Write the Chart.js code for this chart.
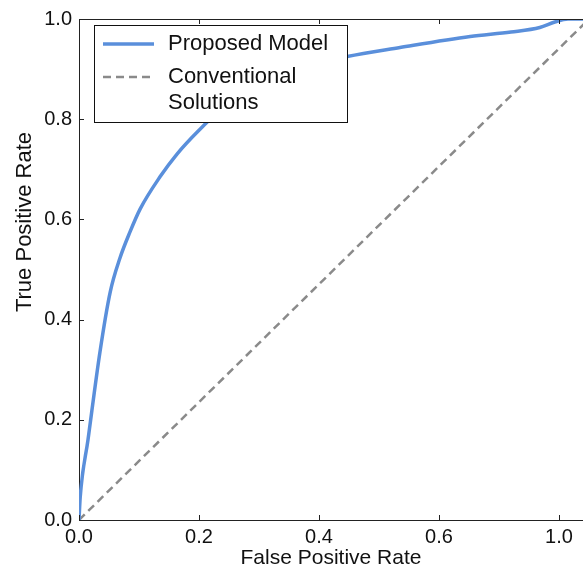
<!DOCTYPE html>
<html>
<head>
<meta charset="utf-8">
<script src="https://cdn.jsdelivr.net/npm/chart.js@4/dist/chart.umd.min.js"></script>
<style>
  html, body { margin: 0; padding: 0; background: #fff; }
  #wrap { width: 583px; height: 571px; }
</style>
</head>
<body>
<div id="wrap"><canvas id="myChart"></canvas></div>
<script>
'use strict';

// ROC curve of the proposed model
const modelFpr = [0, 0.002, 0.015, 0.035, 0.052, 0.068, 0.085, 0.102, 0.135, 0.163, 0.2,
    0.25, 0.3, 0.35, 0.4, 0.447, 0.535, 0.652, 0.72, 0.768, 0.793, 0.815, 0.84];
const modelTpr = [0, 0.045, 0.16, 0.336, 0.455, 0.522, 0.575, 0.621, 0.685, 0.73, 0.778,
    0.833, 0.868, 0.893, 0.911, 0.925, 0.943, 0.965, 0.974, 0.983, 0.994, 1.0, 1.0];

// conventional solutions (chance diagonal)
const baseFpr = [0, 0.85];
const baseTpr = [0, 1.0];

const seriesLabels = ['Proposed Model', 'Conventional Solutions'];
const legendLines = [['Proposed Model'], ['Conventional', 'Solutions']];

const xTickValues = [0, 0.2, 0.4, 0.6, 0.8];
const xTickLabels = ['0.0', '0.2', '0.4', '0.6', '1.0'];
const yTickValues = [0, 0.2, 0.4, 0.6, 0.8, 1.0];

const FONT = '"Liberation Sans", Arial, Helvetica, sans-serif';

function toPoints(xs, ys) {
    return xs.map((x, i) => ({x: x, y: ys[i]}));
}

// frame, inward ticks, legend box and y title
const decorations = {
    id: 'decorations',
    afterDatasetsDraw(chart) {
        const ctx = chart.ctx;
        const a = chart.chartArea;
        const xs = chart.scales.x;
        const ys = chart.scales.y;
        ctx.save();
        ctx.strokeStyle = '#222';
        ctx.lineWidth = 1;
        ctx.beginPath();
        ctx.moveTo(a.left, Math.round(a.top) + 0.5);
        ctx.lineTo(a.right, Math.round(a.top) + 0.5);
        xTickValues.forEach(v => {
            const px = Math.round(xs.getPixelForValue(v)) + 0.5;
            ctx.moveTo(px, a.bottom);
            ctx.lineTo(px, a.bottom - 5);
            ctx.moveTo(px, a.top);
            ctx.lineTo(px, a.top + 5);
        });
        yTickValues.forEach(v => {
            const py = Math.round(ys.getPixelForValue(v)) + 0.5;
            ctx.moveTo(a.left, py);
            ctx.lineTo(a.left + 5, py);
        });
        ctx.stroke();

        // legend
        const bx = 94.5, by = 25.5, bw = 253, bh = 97;
        ctx.fillStyle = '#fff';
        ctx.fillRect(bx, by, bw, bh);
        ctx.strokeStyle = '#111';
        ctx.strokeRect(bx, by, bw, bh);
        const rows = [44, 77];
        chart.data.datasets.forEach((ds, i) => {
            const y = rows[i];
            ctx.beginPath();
            ctx.strokeStyle = ds.borderColor;
            ctx.lineWidth = ds.borderWidth;
            ctx.setLineDash(ds.borderDash || []);
            ctx.moveTo(103, y);
            ctx.lineTo(154, y);
            ctx.stroke();
            ctx.setLineDash([]);
            ctx.fillStyle = '#111';
            ctx.font = '22px ' + FONT;
            ctx.textBaseline = 'middle';
            ctx.textAlign = 'left';
            legendLines[i].forEach((t, j) => {
                ctx.fillText(t, 168, y + j * 26);
            });
        });

        // y axis title
        ctx.translate(25, 222);
        ctx.rotate(-Math.PI / 2);
        ctx.textAlign = 'center';
        ctx.textBaseline = 'middle';
        ctx.fillStyle = '#111';
        ctx.font = '22px ' + FONT;
        ctx.fillText('True Positive Rate', 0, 0);
        ctx.restore();
    }
};

new Chart(document.getElementById('myChart').getContext('2d'), {
    type: 'line',
    data: {
        datasets: [
            {
                label: seriesLabels[0],
                data: toPoints(modelFpr, modelTpr),
                borderColor: '#5a8fdb',
                borderWidth: 3.5,
                pointRadius: 0,
                cubicInterpolationMode: 'monotone',
                fill: false
            },
            {
                label: seriesLabels[1],
                data: toPoints(baseFpr, baseTpr),
                borderColor: '#8a8a8a',
                borderWidth: 2.5,
                borderDash: [8, 5],
                pointRadius: 0,
                fill: false
            }
        ]
    },
    options: {
        responsive: true,
        maintainAspectRatio: false,
        animation: false,
        layout: {
            padding: {top: 14, right: 0, left: 0, bottom: 0}
        },
        plugins: {
            legend: {display: false},
            tooltip: {enabled: false}
        },
        scales: {
            x: {
                type: 'linear',
                min: 0,
                max: 0.84,
                afterBuildTicks: (scale) => {
                    scale.ticks = xTickValues.map(v => ({value: v}));
                },
                afterFit: (scale) => {
                    scale.height = 51;
                },
                grid: {display: false, drawTicks: false},
                border: {display: true, color: '#222', width: 1},
                ticks: {
                    color: '#111',
                    padding: 5,
                    maxRotation: 0,
                    autoSkip: false,
                    font: {family: FONT, size: 20},
                    callback: (value, index) => xTickLabels[index]
                },
                title: {
                    display: true,
                    text: 'False Positive Rate',
                    color: '#111',
                    padding: {top: 0, bottom: 0},
                    font: {family: FONT, size: 21}
                }
            },
            y: {
                type: 'linear',
                min: 0,
                max: 1,
                afterBuildTicks: (scale) => {
                    scale.ticks = yTickValues.map(v => ({value: v}));
                },
                afterFit: (scale) => {
                    scale.width = 79;
                },
                grid: {display: false, drawTicks: false},
                border: {display: true, color: '#222', width: 1},
                ticks: {
                    color: '#111',
                    padding: 7,
                    font: {family: FONT, size: 20},
                    callback: (value) => Number(value).toFixed(1)
                }
            }
        }
    },
    plugins: [decorations]
});
</script>
</body>
</html>
